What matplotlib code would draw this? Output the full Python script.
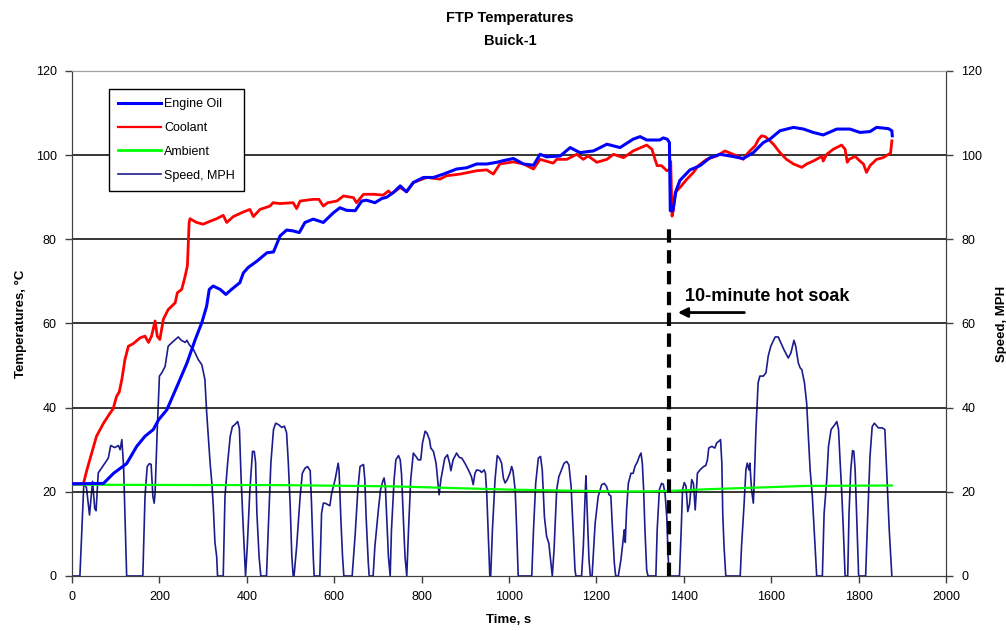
import matplotlib
matplotlib.use("Agg")
import matplotlib.pyplot as plt
from matplotlib.lines import Line2D

plt.rcParams['font.family'] = ['Liberation Sans', 'DejaVu Sans']

# ---------------- data ----------------
speed_t = [0,18,27,33,40,47,52,55,60,68,83,88.5,98,106,110,114,118,121,125,162,167,172,177,181,185,188,190,195,200,205,213,220,228,243,250,259,263,268,278,289,297,304,308,312,316,320,323,327,331,333,346,350,356,362,367,372,379,383,387,392,397,401,407,413,417,420,423,428,432,445,449,455,461,466,472,480,486,491,495,499,503,506,508,514,522,527,533,539,545,548,552,554,567,571,575,579,590,594,602,606,609,611,615,619,622,641,648,654,659,667,670,673,678,680,689,693,701,706,711,714,717,720,724,728,731,737,741,747,751,754,758,762,766,770,775,781,787,792,798,802,808,812,818,821,827,833,836,840,844,848,853,859,864,867,872,880,886,892,899,907,914,918,922,926,934,937,943,946,949,952,956,958,962,968,973,978,983,987,991,996,1002,1006,1009,1014,1017,1021,1052,1056,1061,1067,1072,1076,1081,1086,1091,1096,1099,1103,1109,1114,1120,1126,1132,1137,1142,1146,1151,1153,1166,1170,1174,1176,1179,1183,1186,1190,1197,1204,1212,1218,1223,1229,1233,1236,1241,1244,1250,1256,1262,1264,1266,1269,1273,1279,1284,1288,1294,1298,1302,1305,1308,1311,1315,1318,1336,1339,1344,1349,1353,1357,1361,1364,1367,1390,1394,1397,1401,1405,1409,1413,1418,1422,1426,1428,1431,1437,1445,1450,1454,1457,1464,1471,1475,1480,1484,1487,1489,1492,1496,1529,1532,1538,1542,1545,1549,1551,1555,1559,1561,1565,1570,1574,1582,1588,1593,1599,1609,1616,1622,1629,1639,1645,1652,1656,1662,1666,1670,1676,1681,1685,1689,1694,1699,1704,1717,1721,1727,1731,1737,1745,1750,1754,1757,1761,1765,1769,1775,1778,1782,1786,1789,1792,1796,1800,1816,1821,1826,1831,1836,1845,1854,1860,1864,1870,1876]
speed_v = [0,0,22,21,14.5,22.5,16,15.5,24.5,25.7,28,31,30.5,31,30,32.4,26,15,0,0,18.9,26,26.7,26.5,18.9,17.3,19.6,34.8,47.5,48.2,49.8,54.6,55.4,56.8,56,55.5,56,55,53.8,51.4,50.2,46.7,39,33,26.8,22,17,8,4.6,0,0,18.9,26.8,33.2,35.5,35.9,36.7,35,22.9,11,0,7,20.5,29.6,29.6,27,15,4.6,0,0,11,26.8,34.8,36.3,36,35.3,35.6,34,26.8,17.3,4.6,0,0,7,18.9,24.4,25.6,26,25,17.3,4.6,0,0,14.9,17.3,17.3,16.7,19.6,22.9,25.2,26.8,25.2,14,4.6,0,0,10,20.5,26,26.5,22.9,14,3,0,0,7,15.7,20.5,22.5,23.3,21.3,14,4.6,0,11,22.9,27.6,28.6,27.6,24.2,14,4.6,0,11,22.9,29.2,28.4,27.6,27.6,31.6,34.4,34,32.4,30.4,29.6,26.8,23.6,19.3,22.9,25.2,28,28.8,26.8,25,27.6,29.2,28.2,28,26.8,25.2,23.6,21.7,24.4,25.2,25,24.6,25.2,24.4,19.6,11,0,0,11,22.9,28.6,28,26.8,23.3,22.1,22.9,24.4,26,25,20.5,12.5,0,0,11,22,28,28.4,25.2,14,9.4,7.8,3,0,6.2,20.5,23.6,25.2,26.8,27.2,26.4,21.3,12.5,1.4,0,0,7,18.9,23.8,14.9,3.8,0,0,12.5,18.9,21.7,22,21.3,19.3,19,12.5,3,0,0,3.8,9.4,11,8,15.7,22,24.4,24.4,26,27.2,28.4,29.2,26.8,20.5,11,1.4,0,0,11,20.5,22,21.8,19.6,14,4.6,0,0,11,20.5,22.2,21.3,15.3,17,22.9,22,15.7,19,24.4,25.2,26,26.2,27.6,30.4,30.8,30.4,31.6,32,32.4,26.8,15,7,0,0,7,17.3,25.2,26.8,25.2,26.8,20.5,17.3,22.1,34.8,45.9,47.5,47.5,48.3,52.2,54.6,56.8,56.8,55.4,53.8,51.8,53,56,54.6,50.6,49.5,49,45.9,41.1,33.2,25.2,19,9.4,0,0,14.9,22.9,30.8,34.8,35.9,36.7,34.8,28.4,20.5,11,0,0,14.9,25.2,29.8,29.6,25.2,12.5,0,0,14.9,28.4,35.5,36.3,35.2,35.2,34.8,25.2,11,0]

oil_t = [0,72,95,125,148,167,186,198,217,240,263,282,297,308,314,323,339,352,365,384,392,403,423,446,461,476,491,506,520,533,552,575,598,613,628,648,663,674,693,709,720,735,751,765,781,804,827,850,880,903,926,949,972,987,1010,1033,1056,1071,1086,1117,1140,1162,1193,1224,1254,1284,1300,1315,1345,1353,1362,1367,1369,1375,1382,1391,1414,1437,1460,1483,1506,1536,1559,1582,1597,1620,1651,1674,1696,1719,1750,1780,1803,1826,1841,1868,1876,1877]
oil_v = [21.9,22,24.4,26.7,30.8,33.2,34.8,37.1,39.5,45,50.6,56.2,60.2,64.1,68.1,68.9,68.1,66.9,68.1,69.7,72,73.3,74.8,76.8,77,80.8,82.2,82,81.6,84,84.8,84,86.3,87.5,86.9,86.8,89.1,89.3,88.7,89.7,90,91.1,92.7,91.3,93.5,94.7,94.7,95.5,96.7,97,97.9,97.9,98.3,98.7,99.2,97.9,97.6,100.2,99.6,99.8,101.8,100.6,101,102.6,101.8,103.8,104.4,103.6,103.6,104.1,103.8,103,86.8,86.8,91.5,94,96.5,97.5,99.4,100.2,99.8,99.2,100.6,103,103.8,105.8,106.6,106.2,105.4,104.8,106.2,106.2,105.4,105.6,106.6,106.3,105.8,104.6]

coolant_t = [0,26,34,45,56,72,87,94,102,108,114,121,129,140,156,167,175,182,190,195,201,209,220,236,241,251,259,264,268,270,285,300,316,331,346,354,369,392,407,415,430,453,460,476,506,514,522,552,565,575,585,606,621,644,651,667,690,712,724,731,751,766,781,812,842,857,888,926,949,964,979,1010,1033,1056,1071,1101,1109,1132,1155,1170,1181,1201,1224,1239,1262,1284,1315,1327,1334,1339,1349,1361,1367,1370,1373,1376,1380,1391,1407,1422,1433,1452,1475,1494,1513,1529,1536,1544,1555,1563,1571,1578,1586,1593,1605,1620,1635,1651,1670,1681,1696,1716,1719,1727,1742,1761,1769,1774,1778,1792,1803,1811,1818,1826,1841,1856,1873,1876]
coolant_v = [21.9,21.9,25.2,29.2,33.2,36.3,38.7,39.7,42.7,43.7,46.7,51.4,54.6,55.2,56.6,57,55.5,57,60.6,57,56.2,61,63.3,64.9,67.3,68.1,71.3,73.7,84,84.9,84,83.6,84.3,84.9,85.7,84,85.4,86.5,87.1,85.4,87.1,87.9,88.7,88.5,88.7,87.3,89.1,89.5,89.5,87.9,88.7,89.1,90.3,89.9,88.7,90.7,90.7,90.5,91.5,90.8,92.3,91.3,93.5,94.7,94.3,95.1,95.5,96.3,96.5,95.5,97.9,98.4,97.9,96.7,99,98.1,99,99,100.2,99,99.8,98.3,99,100.2,99.4,101,102.4,101.4,99,97.5,97.5,96.3,96.6,98.5,85.5,87,91.1,92.3,94.3,95.9,97.5,99,99.8,101,100.2,99.4,99,100.2,101.4,102.2,103.8,104.6,104.4,103.8,102.6,100.6,99,97.9,97.1,97.9,98.6,99.7,98.6,100.2,101.4,102.4,101.4,98.3,99,99.7,98.6,97.9,95.9,97.5,99,99.4,100.5,103.4]

ambient_t = [0,300,470,730,1010,1240,1300,1366,1450,1680,1876]
ambient_v = [21.7,21.6,21.6,21.3,20.5,20.1,20.1,20.2,20.6,21.4,21.5]

soak_time = 1366
soak_top = 83
soak_label = "10-minute hot soak"

# ---------------- figure ----------------
fig = plt.figure(figsize=(10.06, 6.31), dpi=100)
ax = fig.add_axes([0.0716, 0.0872, 0.8688, 0.8003])
ax2 = ax.twinx()

ax2.set_facecolor('#C0C0C0')
ax.set_zorder(ax2.get_zorder() + 1)
ax.patch.set_visible(False)

# speed on right axis
l_speed, = ax2.plot(speed_t, speed_v, color='#1C1C8C', lw=1.2)

# temperatures on left axis
for y in [20, 40, 60, 80, 100]:
    ax.axhline(y, color='black', lw=1.1, zorder=1)
l_amb, = ax.plot(ambient_t, ambient_v, color='#00FF00', lw=1.6, zorder=3)
l_cool, = ax.plot(coolant_t, coolant_v, color='#FF0000', lw=2.0, zorder=4)
l_oil, = ax.plot(oil_t, oil_v, color='#0000FF', lw=2.2, zorder=5)

ax.plot([soak_time, soak_time], [0, soak_top], color='black', lw=3,
        dashes=(3.2, 1.8), zorder=6)
ax.annotate('', xy=(1380, 62.6), xytext=(1545, 62.6),
            arrowprops=dict(arrowstyle='-|>', color='black', lw=2,
                            mutation_scale=14), zorder=7)
ax.text(1403, 66.3, soak_label, fontsize=13, fontweight='bold',
        va='center', ha='left', zorder=7)

for a in (ax, ax2):
    a.set_xlim(0, 2000)
    a.set_ylim(0, 120)
ax.set_xticks(range(0, 2001, 200))
ax.set_yticks(range(0, 121, 20))
ax2.set_yticks(range(0, 121, 20))

ax.tick_params(axis='both', direction='out', length=5, labelsize=9, width=1,
               color='#404040', pad=6)
ax2.tick_params(axis='y', direction='out', length=5, labelsize=9, width=1,
                color='#404040', pad=6)

for a in (ax, ax2):
    for s in ['left', 'right', 'bottom']:
        a.spines[s].set_color('#404040')
    a.spines['top'].set_color('#A0A0A0')

ax.set_xlabel('Time, s', fontsize=9.5, fontweight='bold', labelpad=8)
ax.set_ylabel('Temperatures, °C', fontsize=9.5, fontweight='bold')
ax.yaxis.set_label_coords(-0.052, 0.5)
ax2.set_ylabel('Speed, MPH', fontsize=9.5, fontweight='bold', rotation=90)
ax2.yaxis.set_label_coords(1.057, 0.5)

fig.text(0.507, 0.971, 'FTP Temperatures', ha='center', va='center',
         fontsize=10.5, fontweight='bold')
fig.text(0.507, 0.935, 'Buick-1', ha='center', va='center',
         fontsize=10.5, fontweight='bold')

handles = [Line2D([], [], color='#0000FF', lw=2.2),
           Line2D([], [], color='#FF0000', lw=1.6),
           Line2D([], [], color='#00FF00', lw=2.0),
           Line2D([], [], color='#1C1C8C', lw=1.2)]
leg = ax.legend(handles, ['Engine Oil', 'Coolant', 'Ambient', 'Speed, MPH'],
                loc='upper left', bbox_to_anchor=(0.042, 0.965),
                borderaxespad=0.0,
                fontsize=9, frameon=True, fancybox=False, framealpha=1,
                edgecolor='black', handlelength=3.4, handletextpad=0.3,
                labelspacing=0.95, borderpad=0.75)
leg.get_frame().set_linewidth(1.0)
leg.set_zorder(10)

fig.savefig('out.png', dpi=100)
